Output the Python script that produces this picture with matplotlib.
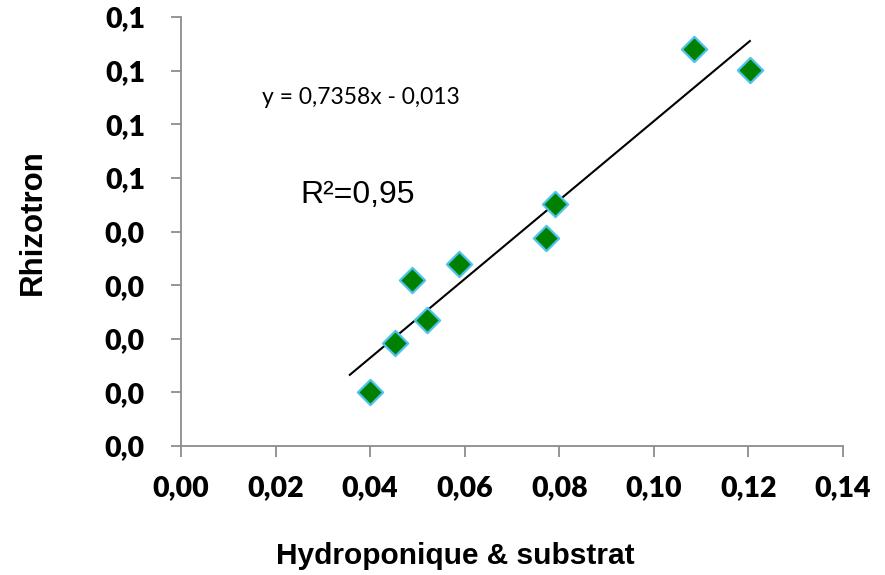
import matplotlib
matplotlib.use("Agg")
import matplotlib.pyplot as plt
import numpy as np

# Data
x_vals = [0.0400, 0.0453, 0.0489, 0.0520, 0.0588, 0.0772, 0.0791, 0.1085, 0.1203]
y_vals = [0.0101, 0.0192, 0.0310, 0.0235, 0.0340, 0.0388, 0.0451, 0.0741, 0.0701]
slope = 0.7358
intercept = -0.013
trend_x = [0.0357, 0.1203]
x_ticks = [0.00, 0.02, 0.04, 0.06, 0.08, 0.10, 0.12, 0.14]
x_tick_labels = ["0,00", "0,02", "0,04", "0,06", "0,08", "0,10", "0,12", "0,14"]
y_ticks = [0.00, 0.01, 0.02, 0.03, 0.04, 0.05, 0.06, 0.07, 0.08]
y_tick_labels = ["0,0", "0,0", "0,0", "0,0", "0,0", "0,1", "0,1", "0,1", "0,1"]
eq_text = "y = 0,7358x - 0,013"
r2_text = "R²=0,95"
x_label = "Hydroponique & substrat"
y_label = "Rhizotron"

fig = plt.figure(figsize=(8.85, 5.75), dpi=100)
ax = fig.add_axes([181/885, 1 - 446/575, (843-181)/885, (446-17)/575])

tx = np.array(trend_x)
ax.plot(tx, slope*tx + intercept, color="black", lw=1.5, zorder=2)
ax.scatter(x_vals, y_vals, marker="D", s=165, color="#008000",
           edgecolors="#4dc3ee", linewidths=1.6, zorder=3)

ax.set_xlim(0, 0.14)
ax.set_ylim(0, 0.08)
ax.set_xticks(x_ticks)
ax.set_xticklabels(x_tick_labels)
ax.set_yticks(y_ticks)
ax.set_yticklabels(y_tick_labels)

for s in ["top", "right"]:
    ax.spines[s].set_visible(False)
for s in ["left", "bottom"]:
    ax.spines[s].set_color("#8c8c8c")
    ax.spines[s].set_linewidth(1.3)
ax.tick_params(axis="x", direction="out", length=8, width=1.3, color="#8c8c8c", pad=13)
ax.tick_params(axis="y", direction="out", length=7, width=1.3, color="#8c8c8c", pad=19)
for lab in ax.get_xticklabels() + ax.get_yticklabels():
    lab.set_fontfamily("Lato")
    lab.set_fontweight("heavy")
    lab.set_fontsize(20.5)

fig.text(455/885, 1 - 556/575, x_label, ha="center", va="center",
         fontfamily="Liberation Sans", fontweight="bold", fontsize=21.5)
fig.text(33/885, 1 - 222/575, y_label, ha="center", va="center", rotation=90,
         fontfamily="Liberation Sans", fontweight="bold", fontsize=22.5)

ax.text(262/885, 1 - 98/575, eq_text, transform=fig.transFigure, ha="left", va="center",
        fontfamily="Lato", fontsize=16.5)
ax.text(300/885, 1 - 195/575, r2_text, transform=fig.transFigure, ha="left", va="center",
        fontfamily="Liberation Sans", fontsize=23)

fig.savefig("out.png", dpi=100)
